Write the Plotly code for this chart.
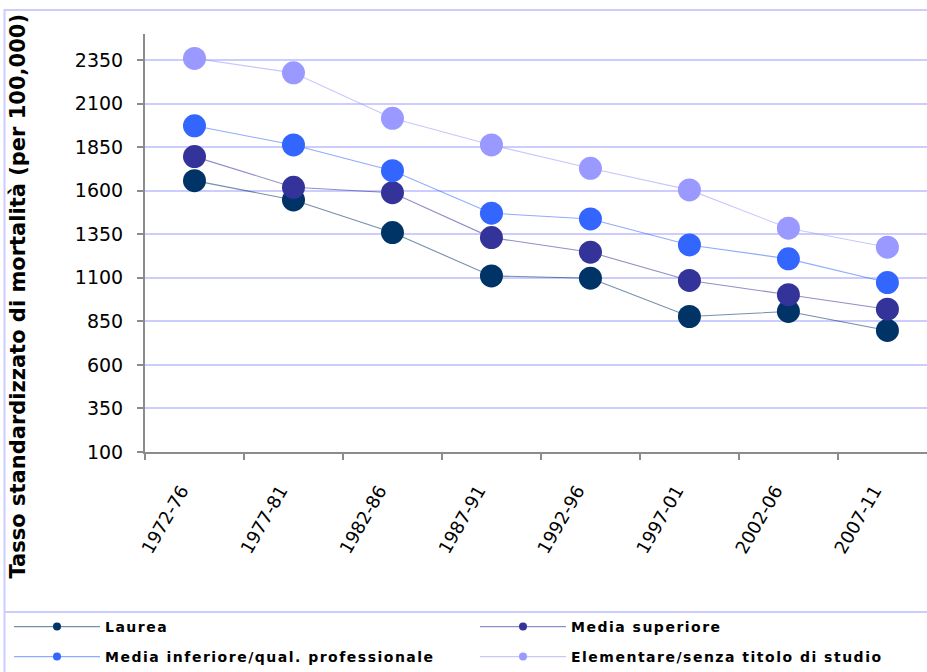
import plotly.graph_objects as go

periods = ["1972-76", "1977-81", "1982-86", "1987-91", "1992-96", "1997-01", "2002-06", "2007-11"]
laurea = [1658, 1547, 1360, 1111, 1098, 878, 907, 798]
media_superiore = [1796, 1620, 1589, 1331, 1247, 1085, 1003, 920]
media_inferiore = [1973, 1863, 1715, 1471, 1438, 1289, 1209, 1073]
elementare = [2360, 2277, 2016, 1863, 1729, 1605, 1385, 1276]

names = ["Laurea", "Media superiore", "Media inferiore/qual. professionale",
         "Elementare/senza titolo di studio"]
series = [laurea, media_superiore, media_inferiore, elementare]
colors = ["#003366", "#333399", "#3366FF", "#9999FF"]
line_colors = ["rgba(0,51,102,0.55)", "rgba(51,51,153,0.55)", "rgba(51,102,255,0.55)", "rgba(153,153,255,0.55)"]
legend_ids = ["legend", "legend2", "legend3", "legend4"]
# legend anchor positions in pixels (x of entry, y of row centre)
legend_px = [(9, 627), (475, 627), (9, 657), (475, 657)]

W, H = 927, 672
L, R, T, B = 145, 0, 34, 220
pw, ph = W - L - R, H - T - B

def px_x(p):
    return (p - L) / pw

def px_y(p):
    return (H - B - p) / ph

fig = go.Figure()
for name, vals, c, lc in zip(names, series, colors, line_colors):
    fig.add_trace(go.Scatter(
        x=periods, y=vals, mode="lines+markers", name=name, showlegend=False,
        line=dict(color=lc, width=1.1),
        marker=dict(symbol="circle", size=23, color=c),
    ))
# legend entries (small symbols as in the reference)
for name, c, lc, lg in zip(names, colors, line_colors, legend_ids):
    fig.add_trace(go.Scatter(
        x=[None], y=[None], mode="lines+markers", legend=lg,
        name='<span style="letter-spacing:1.5px">' + name + '</span>',
        line=dict(color=lc, width=1.1),
        marker=dict(symbol="circle", size=8, color=c),
    ))

grid_c = "#CCCCFF"
legends = {}
for lg, (lx, ly) in zip(legend_ids, legend_px):
    legends[lg] = dict(
        orientation="h", xref="container", yref="container",
        x=lx / W, y=1 - ly / H, xanchor="left", yanchor="middle",
        itemwidth=86,
        font=dict(family="DejaVu Sans", size=14, color="black", weight="bold"),
        bgcolor="rgba(0,0,0,0)",
    )

fig.update_layout(
    width=W, height=H, autosize=False,
    margin=dict(l=L, r=R, t=T, b=B, pad=0),
    paper_bgcolor="white", plot_bgcolor="white",
    font=dict(family="DejaVu Sans", color="black"),
    xaxis=dict(
        type="category", range=[-0.5, 7.4], automargin=False,
        showline=True, linecolor="#8C8C8C", linewidth=2,
        ticks="outside", ticklen=6, tickcolor="#8C8C8C", tickwidth=2,
        tickson="boundaries", showgrid=False, zeroline=False,
        tickangle=-60, ticklabelstandoff=19, ticklabelshift=-13,
        tickfont=dict(family="DejaVu Sans", size=18, color="black"),
    ),
    yaxis=dict(
        range=[100, 2500], tick0=100, dtick=250, tickmode="linear", automargin=False,
        showline=True, linecolor="#8C8C8C", linewidth=2,
        ticks="outside", ticklen=6, tickcolor="#8C8C8C", tickwidth=2,
        showgrid=True, gridcolor=grid_c, gridwidth=2, zeroline=False,
        ticklabelstandoff=10,
        tickfont=dict(family="DejaVu Sans", size=19, color="black"),
    ),
    annotations=[dict(
        text="Tasso standardizzato di mortalità (per 100,000)",
        xref="paper", yref="paper", x=px_x(17), y=px_y(296.5),
        xanchor="center", yanchor="middle", textangle=-90, showarrow=False,
        font=dict(family="DejaVu Sans", size=21, color="black", weight="bold"),
    )],
    shapes=[
        dict(type="rect", xref="paper", yref="paper",
             x0=px_x(4.5), x1=px_x(950), y0=px_y(10), y1=px_y(700),
             line=dict(color=grid_c, width=2), layer="below"),
        dict(type="line", xref="paper", yref="paper",
             x0=px_x(4.5), x1=px_x(950), y0=px_y(612), y1=px_y(612),
             line=dict(color=grid_c, width=2), layer="below"),
    ],
    **legends,
)

fig.write_html("out.html", config={"displayModeBar": False},
               post_script="document.body.style.margin='0';")
